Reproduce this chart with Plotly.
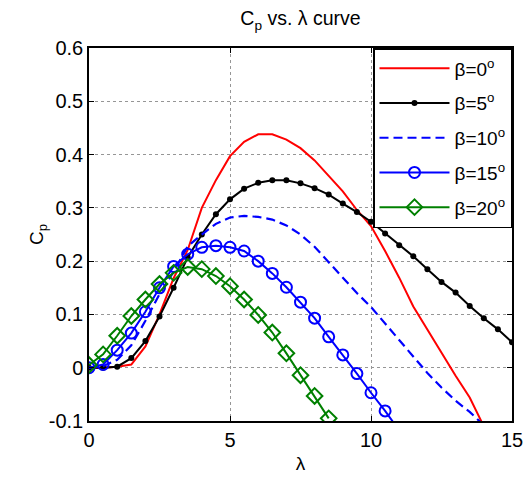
import plotly.graph_objects as go

lam = [i * 0.5 for i in range(31)]

cp_b0 = [0, 0, 0.002, 0.006, 0.04, 0.10, 0.168, 0.221, 0.300, 0.352, 0.397, 0.424,
         0.438, 0.438, 0.428, 0.412, 0.389, 0.361, 0.331, 0.296, 0.266, 0.219,
         0.169, 0.115, 0.072, 0.027, -0.015, -0.056, -0.11]
cp_b5 = [0, 0, 0.002, 0.018, 0.05, 0.096, 0.150, 0.207, 0.250, 0.288, 0.316, 0.336,
         0.347, 0.352, 0.352, 0.346, 0.337, 0.325, 0.308, 0.292, 0.274, 0.252,
         0.230, 0.209, 0.185, 0.161, 0.141, 0.116, 0.093, 0.072, 0.048]
cp_b10 = [0, 0.003, 0.015, 0.042, 0.088, 0.138, 0.18, 0.228, 0.25, 0.27, 0.282, 0.285,
          0.283, 0.278, 0.267, 0.25, 0.227, 0.198, 0.168, 0.14, 0.114, 0.083,
          0.052, 0.02, -0.01, -0.037, -0.062, -0.083, -0.108]
cp_b15 = [0, 0.006, 0.033, 0.065, 0.105, 0.15, 0.19, 0.213, 0.226, 0.229, 0.226, 0.219,
          0.2, 0.177, 0.151, 0.123, 0.093, 0.058, 0.024, -0.011, -0.047, -0.081, -0.118]
cp_b20 = [0.005, 0.025, 0.06, 0.097, 0.128, 0.157, 0.178, 0.189, 0.185, 0.172, 0.153,
          0.128, 0.099, 0.066, 0.027, -0.014, -0.053, -0.095]

names = ["β=0<sup>o</sup>", "β=5<sup>o</sup>", "β=10<sup>o</sup>",
         "β=15<sup>o</sup>", "β=20<sup>o</sup>"]

xticks = [0, 5, 10, 15]
xtick_text = ["0", "5", "10", "15"]
yticks = [-0.1, 0, 0.1, 0.2, 0.3, 0.4, 0.5, 0.6]
ytick_text = ["-0.1", "0", "0.1", "0.2", "0.3", "0.4", "0.5", "0.6"]

FONT = "Arial, Liberation Sans, sans-serif"

fig = go.Figure()
fig.add_trace(go.Scatter(x=lam[:len(cp_b0)], y=cp_b0, name=names[0], mode="lines",
                         legendgroup="g0",
                         line=dict(color="rgb(255,0,0)", width=2)))
fig.add_trace(go.Scatter(x=lam[:len(cp_b5)], y=cp_b5, name=names[1], mode="lines+markers",
                         legendgroup="g1",
                         line=dict(color="black", width=2),
                         marker=dict(symbol="circle", size=6, color="black")))
fig.add_trace(go.Scatter(x=lam[:len(cp_b10)], y=cp_b10, name=names[2], mode="lines",
                         legendgroup="g2",
                         line=dict(color="rgb(0,0,255)", width=2.2, dash="9px,5px")))
fig.add_trace(go.Scatter(x=lam[:len(cp_b15)], y=cp_b15, name=names[3], mode="lines+markers",
                         legendgroup="g3",
                         line=dict(color="rgb(0,0,255)", width=2),
                         marker=dict(symbol="circle-open", size=11, color="rgb(0,0,255)",
                                     line=dict(width=2, color="rgb(0,0,255)"))))
fig.add_trace(go.Scatter(x=lam[:len(cp_b20)], y=cp_b20, name=names[4], mode="lines+markers",
                         legendgroup="g4",
                         line=dict(color="rgb(0,128,0)", width=2),
                         marker=dict(symbol="diamond-open", size=12, color="rgb(0,128,0)",
                                     line=dict(width=2, color="rgb(0,128,0)"))))

axis_common = dict(showline=True, linecolor="black", linewidth=1.5, mirror="ticks",
                   ticks="inside", ticklen=5, tickcolor="black", tickwidth=1,
                   showgrid=True, gridcolor="rgb(150,150,150)", griddash="dot", gridwidth=1,
                   zeroline=False, automargin=False, ticklabeloverflow="allow",
                   tickfont=dict(family=FONT, size=20, color="black"))

fig.update_layout(
    width=523, height=477,
    margin=dict(l=89, r=11, t=48, b=56),
    paper_bgcolor="white", plot_bgcolor="white",
    font=dict(family=FONT, color="black"),
    title=dict(text="C<sub>p</sub> vs. λ curve", x=0.5, xref="paper", xanchor="center",
               y=0.961, yanchor="middle", font=dict(family=FONT, size=19.5, color="black")),
    xaxis=dict(range=[0, 15], tickvals=xticks, ticktext=xtick_text,
               title=dict(text="λ", font=dict(family=FONT, size=19), standoff=7),
               **axis_common),
    yaxis=dict(range=[-0.1, 0.6], tickvals=yticks, ticktext=ytick_text,
               title=dict(text="C<sub>p</sub>", font=dict(family=FONT, size=19), standoff=0),
               **axis_common),
    legend=dict(x=1, xanchor="right", y=1, yanchor="top", bgcolor="white",
                bordercolor="black", borderwidth=1.5,
                font=dict(family=FONT, size=19, color="black"),
                itemwidth=70, tracegroupgap=7),
    showlegend=True,
)

# remove the browser's default 8px body margin so the figure fills the window
fig.write_html("out.html", config={"displayModeBar": False},
               post_script="document.body.style.margin='0';")
